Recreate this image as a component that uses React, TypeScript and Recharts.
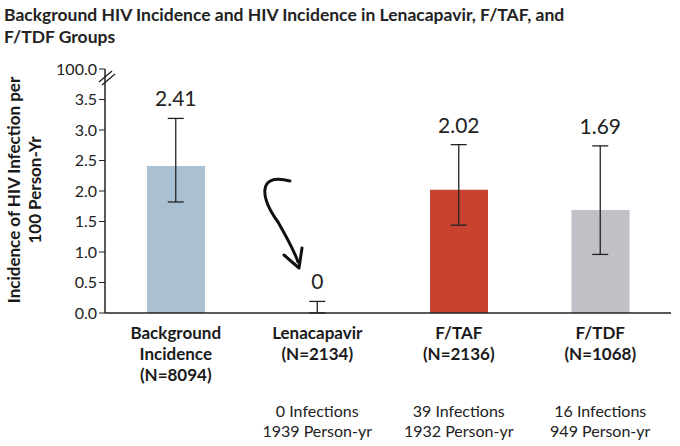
import React from 'react';
import { ComposedChart, Bar, Line, XAxis, YAxis, ErrorBar, LabelList, Cell, Customized } from 'recharts';

const groups = ['Background|Incidence|(N=8094)', 'Lenacapavir|(N=2134)', 'F/TAF|(N=2136)', 'F/TDF|(N=1068)'];
const incidence = [2.41, 0, 2.02, 1.69];
const lowCI = [1.82, 0, 1.44, 0.96];
const highCI = [3.19, 0.19, 2.76, 2.74];
const infections = ['', '0 Infections', '39 Infections', '16 Infections'];
const personYears = ['', '1939 Person-yr', '1932 Person-yr', '949 Person-yr'];
const barColors = ['#a9c1d2', '#ffffff', '#c8432f', '#c0c1c6'];
const yTicks = [0, 0.5, 1, 1.5, 2, 2.5, 3, 3.5, 4];

const data = groups.map((g, i) => ({
  name: g,
  value: incidence[i],
  high: highCI[i],
  err: [incidence[i] - lowCI[i], highCI[i] - incidence[i]],
  label: incidence[i] === 0 ? '0' : incidence[i].toFixed(2),
  inf: infections[i],
  py: personYears[i],
}));

const FONT = 'Lato, "Open Sans", sans-serif';

const XTick = (props: any) => {
  const { x, y, payload, index } = props;
  const lines = String(payload.value).split('|');
  const d = data[index];
  return (
    <g>
      {lines.map((l, k) => (
        <text key={k} x={x} y={y + 18 + k * 21} textAnchor="middle" fontFamily={FONT} fontWeight={700} fontSize={17} fill="#1a1a1a">{l}</text>
      ))}
      {d && d.inf && (
        <>
          <text x={x} y={y + 96} textAnchor="middle" fontFamily={FONT} fontSize={16} fill="#222">{d.inf}</text>
          <text x={x} y={y + 116} textAnchor="middle" fontFamily={FONT} fontSize={16} fill="#222">{d.py}</text>
        </>
      )}
    </g>
  );
};

const Decor = (props: any) => {
  const off = props.offset || {};
  const left = off.left ?? 105;
  return (
    <g>
      <line x1={left - 4} y1={83} x2={left + 10} y2={70} stroke="#fff" strokeWidth={6} />
      <line x1={left - 6} y1={82} x2={left + 7} y2={71} stroke="#222" strokeWidth={1.3} />
      <line x1={left - 3} y1={85} x2={left + 10} y2={74} stroke="#222" strokeWidth={1.3} />
      <path d="M290,181 C255,172 262,200 278,222 C286,236 294,250 298,262" fill="none" stroke="#111" strokeWidth={3} strokeLinecap="round" />
      <path d="M284,255 L299,268 L302,248" fill="none" stroke="#111" strokeWidth={3} strokeLinecap="round" strokeLinejoin="round" />
    </g>
  );
};

export default function App() {
  return (
    <div style={{ position: 'absolute', left: 0, top: 0, width: 680, height: 446, background: '#fff' }}>
      <div style={{ position: 'absolute', left: 4, top: 4, fontFamily: FONT, fontWeight: 700, fontSize: 17.5, lineHeight: '22px', color: '#222' }}>
        Background HIV Incidence and HIV Incidence in Lenacapavir, F/TAF, and<br />F/TDF Groups
      </div>
      <ComposedChart width={680} height={446} data={data} margin={{ top: 69, right: 9, bottom: 103, left: 45 }}>
        <XAxis dataKey="name" height={30} interval={0} tick={<XTick />} tickLine={false} axisLine={{ stroke: '#222', strokeWidth: 1.5 }} />
        <YAxis
          domain={[0, 4]}
          ticks={yTicks}
          width={60}
          tickFormatter={(v: number) => (v === 4 ? '100.0' : v.toFixed(1))}
          tick={{ fontFamily: FONT, fontSize: 16, fill: '#222' }}
          tickLine={{ stroke: '#222' }}
          tickSize={6}
          axisLine={{ stroke: '#222', strokeWidth: 1.5 }}
          label={{
            content: () => (
              <g transform="translate(20,190) rotate(-90)">
                <text textAnchor="middle" y={0} fontFamily={FONT} fontWeight={700} fontSize={17} fill="#1a1a1a">Incidence of HIV Infection per</text>
                <text textAnchor="middle" y={21} fontFamily={FONT} fontWeight={700} fontSize={17} fill="#1a1a1a">100 Person-Yr</text>
              </g>
            ),
          }}
        />
        <Bar dataKey="value" barSize={58} isAnimationActive={false}>
          {data.map((d, i) => <Cell key={i} fill={barColors[i]} />)}
        </Bar>
        <Line dataKey="value" stroke="none" dot={false} activeDot={false} isAnimationActive={false}>
          <ErrorBar dataKey="err" width={8} stroke="#222" strokeWidth={1.3} />
        </Line>
        <Line dataKey="high" stroke="none" dot={false} activeDot={false} isAnimationActive={false}>
          <LabelList dataKey="label" content={(p: any) => (
            <text x={p.x} y={p.y - 12} textAnchor="middle" fontFamily={FONT} fontSize={21} fill="#222">{p.value}</text>
          )} />
        </Line>
        <Customized component={Decor} />
      </ComposedChart>
    </div>
  );
}
